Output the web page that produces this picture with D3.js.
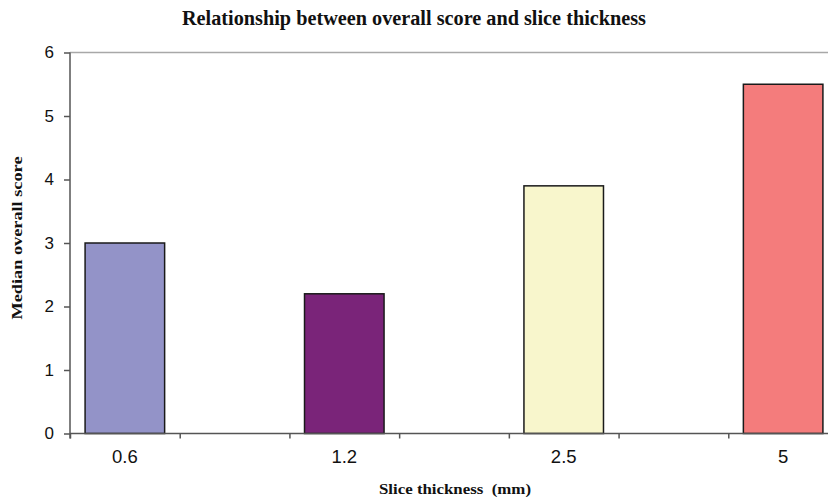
<!DOCTYPE html>
<html>
<head>
<meta charset="utf-8">
<script src="https://cdn.jsdelivr.net/npm/d3@7"></script>
<style>
  body { margin: 0; background: #fff; }
  svg { display: block; }
</style>
</head>
<body>
<div id="chart"></div>
<script>
// Chart data
const categories = ["0.6", "1.2", "2.5", "5"];
const scores = [3.0, 2.2, 3.9, 5.5];
const barColors = ["#9393c8", "#7a2479", "#f8f6cc", "#f47c7c"];
const yTicks = [0, 1, 2, 3, 4, 5, 6];

// Excel-style axis: each category sits in every other slot, 7 slots total
const slotCount = 7;
const slotOf = i => i * 2;

const width = 828, height = 497;
const plot = { left: 70, right: 838, top: 52.5, bottom: 433.5 };

const svg = d3.select("#chart")
              .append("svg")
              .attr("width", width)
              .attr("height", height);

const x = d3.scaleLinear()
            .domain([0, slotCount])
            .range([plot.left, plot.right]);

const y = d3.scaleLinear()
            .domain([0, 6])
            .range([plot.bottom, plot.top]);

// Top border of plot area
svg.append("line")
   .attr("x1", plot.left).attr("x2", plot.right)
   .attr("y1", y(6)).attr("y2", y(6))
   .attr("stroke", "#a8a8a8")
   .attr("stroke-width", 1.5);

// Bars
const slotW = x(1) - x(0);
const barW = slotW * 0.725;
svg.selectAll(".bar")
   .data(categories.map((c, i) => ({ cat: c, val: scores[i], color: barColors[i], slot: slotOf(i) })))
   .enter()
   .append("rect")
   .attr("class", "bar")
   .attr("x", d => x(d.slot + 0.5) - barW / 2)
   .attr("y", d => y(d.val))
   .attr("width", barW)
   .attr("height", d => y(0) - y(d.val))
   .attr("fill", d => d.color)
   .attr("stroke", "#1a1a1a")
   .attr("stroke-width", 1.5);

// Y axis
const yAxis = svg.append("g")
                 .attr("transform", `translate(${plot.left},0)`)
                 .call(d3.axisLeft(y).tickValues(yTicks).tickSize(6).tickPadding(10).tickFormat(d3.format("d")));
yAxis.select(".domain").attr("stroke", "#555").attr("stroke-width", 1.5)
     .attr("d", `M0,${plot.top}V${plot.bottom + 5}`);
yAxis.selectAll(".tick line").attr("stroke", "#555").attr("stroke-width", 1.5);
yAxis.selectAll("text")
     .attr("font-family", "Liberation Sans, Arial, sans-serif")
     .attr("font-size", 17)
     .attr("fill", "#111");

// X axis: tick marks between slots, labels at category centres
const xAxis = svg.append("g")
                 .attr("transform", `translate(0,${plot.bottom})`)
                 .call(d3.axisBottom(x).tickValues(d3.range(0, slotCount)).tickSize(5).tickFormat(""));
xAxis.select(".domain").attr("stroke", "#555").attr("stroke-width", 1.5)
     .attr("d", `M${plot.left},0H${plot.right}`);
xAxis.selectAll(".tick line").attr("stroke", "#555").attr("stroke-width", 1.5);

svg.selectAll(".xlabel")
   .data(categories)
   .enter()
   .append("text")
   .attr("class", "xlabel")
   .attr("x", (d, i) => x(slotOf(i) + 0.5))
   .attr("y", 463)
   .attr("text-anchor", "middle")
   .attr("font-family", "Liberation Sans, Arial, sans-serif")
   .attr("font-size", 18.5)
   .attr("fill", "#111")
   .text(d => d);

// Title
svg.append("text")
   .attr("x", 414)
   .attr("y", 25)
   .attr("text-anchor", "middle")
   .attr("font-family", "Liberation Serif, Times New Roman, serif")
   .attr("font-weight", "bold")
   .attr("font-size", 20)
   .attr("textLength", 464)
   .attr("lengthAdjust", "spacingAndGlyphs")
   .attr("fill", "#111")
   .text("Relationship between overall score and slice thickness");

// Axis titles
svg.append("text")
   .attr("transform", "translate(22,238) rotate(-90)")
   .attr("text-anchor", "middle")
   .attr("font-family", "Liberation Serif, Times New Roman, serif")
   .attr("font-weight", "bold")
   .attr("font-size", 15)
   .attr("textLength", 163)
   .attr("lengthAdjust", "spacingAndGlyphs")
   .attr("fill", "#111")
   .text("Median overall score");

svg.append("text")
   .attr("x", 455)
   .attr("y", 494)
   .attr("text-anchor", "middle")
   .attr("font-family", "Liberation Serif, Times New Roman, serif")
   .attr("font-weight", "bold")
   .attr("font-size", 14.5)
   .attr("textLength", 152)
   .attr("lengthAdjust", "spacingAndGlyphs")
   .attr("fill", "#111")
   .style("white-space", "pre")
   .text("Slice thickness  (mm)");
</script>
</body>
</html>
